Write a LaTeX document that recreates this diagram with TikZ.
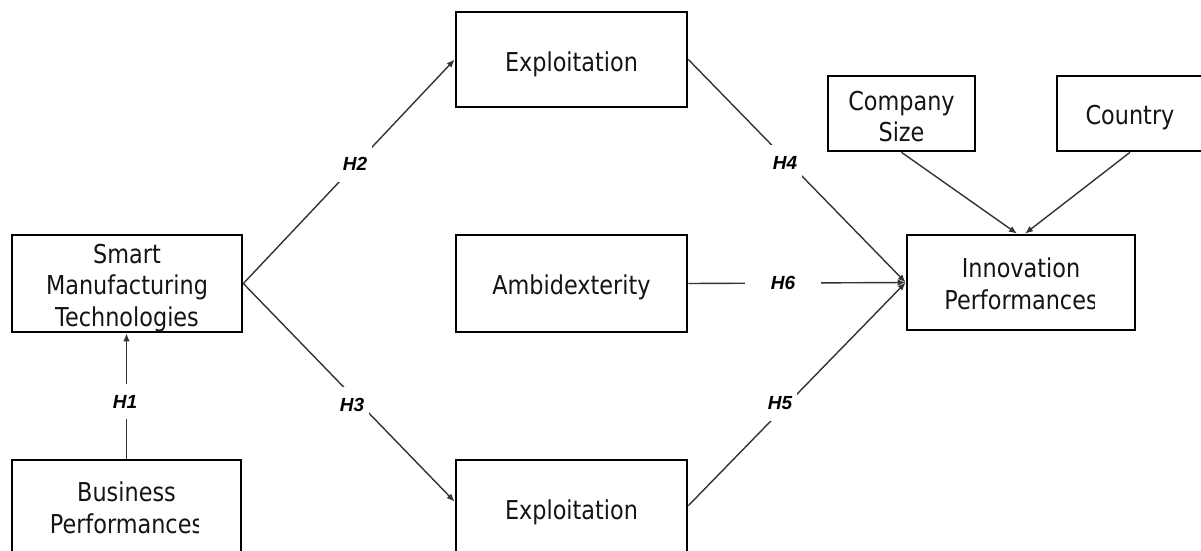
\documentclass[tikz,border=0pt]{standalone}
\usepackage{fontspec}
\setmainfont{DejaVu Sans}[FakeStretch=0.86]
\newfontfamily\hypfont{Liberation Sans}
\usetikzlibrary{arrows.meta}

\begin{document}
\begin{tikzpicture}[x=1pt,y=-1pt,
  box/.style={draw=black, line width=2.7pt, inner sep=0pt},
  txt/.style={font=\fontsize{26}{31.5}\selectfont, text=black!92, align=center},
  link/.style={draw=black!80, line width=1.4pt, -{Latex[length=8pt,width=6.5pt]}},
  hyp/.style={font=\hypfont\fontsize{19}{20}\selectfont\bfseries\itshape,
              text=black, fill=white, inner xsep=5pt, inner ysep=11pt},
]
\useasboundingbox (0,0) rectangle (1201,551);

% construct boxes
\node[box, minimum width=230pt, minimum height=97pt] (smt) at (127,283.5) {};
\node[box, minimum width=229pt, minimum height=110pt] (bp) at (126.5,515) {};
\node[box, minimum width=231pt, minimum height=95pt] (ex1) at (571.5,59.5) {};
\node[box, minimum width=231pt, minimum height=97pt] (amb) at (571.5,283.5) {};
\node[box, minimum width=231pt, minimum height=110pt] (ex2) at (571.5,515) {};
\node[box, minimum width=228pt, minimum height=95pt] (inn) at (1021,282.5) {};
\node[box, minimum width=147pt, minimum height=75pt] (cs) at (901.5,113.5) {};
\node[box, minimum width=146pt, minimum height=75pt] (cty) at (1130,113.5) {};

% construct names
\node[txt] (smtt) at (127,288) {Smart\\Manufacturing\\Technologies};
\begin{scope}
  \clip (0,440) rectangle (198,551);
  \node[txt] (bpt) at (126.5,508) {Business\\Performances};
\end{scope}
\node[txt, anchor=base] (ex1t) at (571.5,71) {Exploitation};
\node[txt, anchor=base] (ambt) at (571.5,294) {Ambidexterity};
\node[txt, anchor=base] (ex2t) at (571.5,519) {Exploitation};
\begin{scope}
  \clip (890,230) rectangle (1094,335);
  \node[txt] (innt) at (1021,284) {Innovation\\Performances};
\end{scope}
\node[txt] (cst) at (901.5,116.5) {Company\\Size};
\node[txt, anchor=base] (ctyt) at (1130,124) {Country};

% hypothesised paths
\draw[link] (bp.north) -- (bp.north |- smt.south);
\draw[link] (smt.east) -- (ex1.west);
\draw[link] (smt.east) -- ([yshift=-43pt]ex2.north west);
\draw[link] (ex1.east) -- (inn.west);
\draw[link] ([yshift=-47pt]ex2.north east) -- (inn.west);
\draw[link] (amb.east) -- (inn.west);
\draw[link] (cs.south) -- ([xshift=-4pt]inn.north);
\draw[link] (cty.south) -- ([xshift=4pt]inn.north);

% hypothesis labels
\node[hyp] (h1) at (125,401.5) {H1};
\node[hyp] (h2) at (355,164) {H2};
\node[hyp] (h3) at (352,405) {H3};
\node[hyp] (h4) at (785,163) {H4};
\node[hyp] (h5) at (780,403) {H5};
\node[hyp, inner xsep=26pt] (h6) at (783,283) {H6};
\end{tikzpicture}
\end{document}
